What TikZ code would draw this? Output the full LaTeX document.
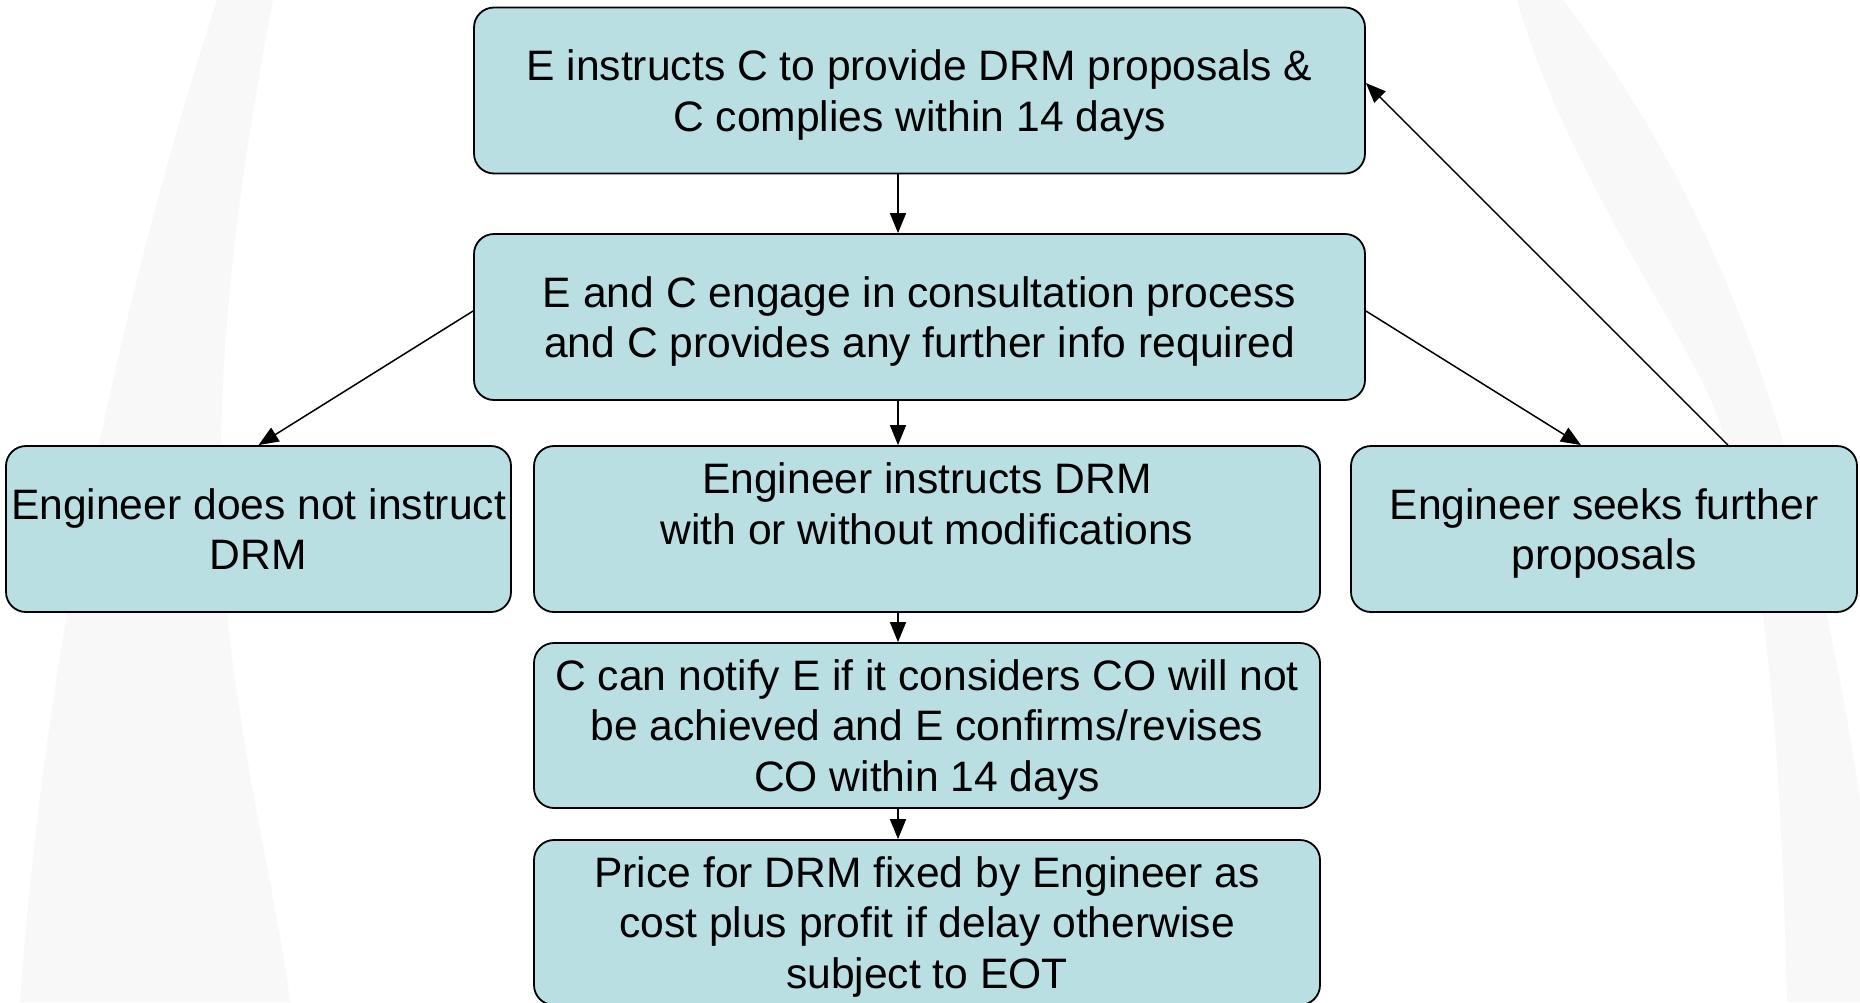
\documentclass[tikz,border=0pt]{standalone}
\usepackage{fontspec}
\setmainfont{Liberation Sans}
\usetikzlibrary{arrows.meta}
\definecolor{boxfill}{HTML}{B9DFE2}
\definecolor{wm}{HTML}{F8F8F8}
\begin{document}
\begin{tikzpicture}[x=1pt,y=-1pt,
  box/.style={draw=black, line width=1.8pt, fill=boxfill, rounded corners=20pt, align=center, inner sep=0pt, text depth=0pt, font=\fontsize{42.6}{50.5}\selectfont, minimum height=166pt},
  arr/.style={line width=1.5pt, -{Triangle[length=20pt,width=16pt]}}]
\path[use as bounding box] (0,0) rectangle (1860,1002);
\clip (0,0) rectangle (1860,1002);
\fill[white] (0,0) rectangle (1860,1002);
% faint background swooshes
\fill[wm] (217,0) -- (273,0) .. controls (215,300) and (210,500) .. (235,680) .. controls (255,820) and (280,920) .. (290,1002) -- (20,1002) .. controls (45,650) and (120,300) .. (217,0) -- cycle;
\fill[wm] (1517,0) -- (1563,0) .. controls (1700,180) and (1800,400) .. (1860,800) -- (1860,1002) -- (1787,1002) .. controls (1780,700) and (1760,500) .. (1703,383) .. controls (1650,280) and (1560,150) .. (1517,0) -- cycle;
% boxes
\node[box, minimum width=891pt] (b1) at (919.5,90.5) {E instructs C to provide DRM proposals \&\\C complies within 14 days};
\node[box, minimum width=891pt] (b2) at (919.5,317) {E and C engage in consultation process\\and C provides any further info required};
\node[box, minimum width=505pt] (b3) at (258.5,529) {Engineer does not instruct\\DRM};
\node[box, minimum width=786pt] (b4) at (927,529) {Engineer instructs DRM\\with or without modifications\\\mbox{}};
\node[box, minimum width=506pt] (b5) at (1604,529) {Engineer seeks further\\proposals};
\node[box, minimum width=786pt, minimum height=165pt] (b6) at (927,725.5) {C can notify E if it considers CO will not\\be achieved and E confirms/revises\\CO within 14 days};
\node[box, minimum width=786pt, minimum height=165pt] (b7) at (927,922.5) {Price for DRM fixed by Engineer as\\cost plus profit if delay otherwise\\subject to EOT};
% connectors
\coordinate (vx) at (898,0);
\draw[arr] (b1.south -| vx) -- (b2.north -| vx);
\draw[arr] (b2.south -| vx) -- (b4.north -| vx);
\draw[arr] (b4.south -| vx) -- (b6.north -| vx);
\draw[arr] (b6.south -| vx) -- (b7.north -| vx);
\draw[arr] ([yshift=6pt]b2.west) -- (b3.north);
\draw[arr] ([yshift=6pt]b2.east) -- ([xshift=-23pt]b5.north);
\draw[arr] ([xshift=124pt]b5.north) -- ([yshift=7.5pt]b1.east);
\end{tikzpicture}
\end{document}
